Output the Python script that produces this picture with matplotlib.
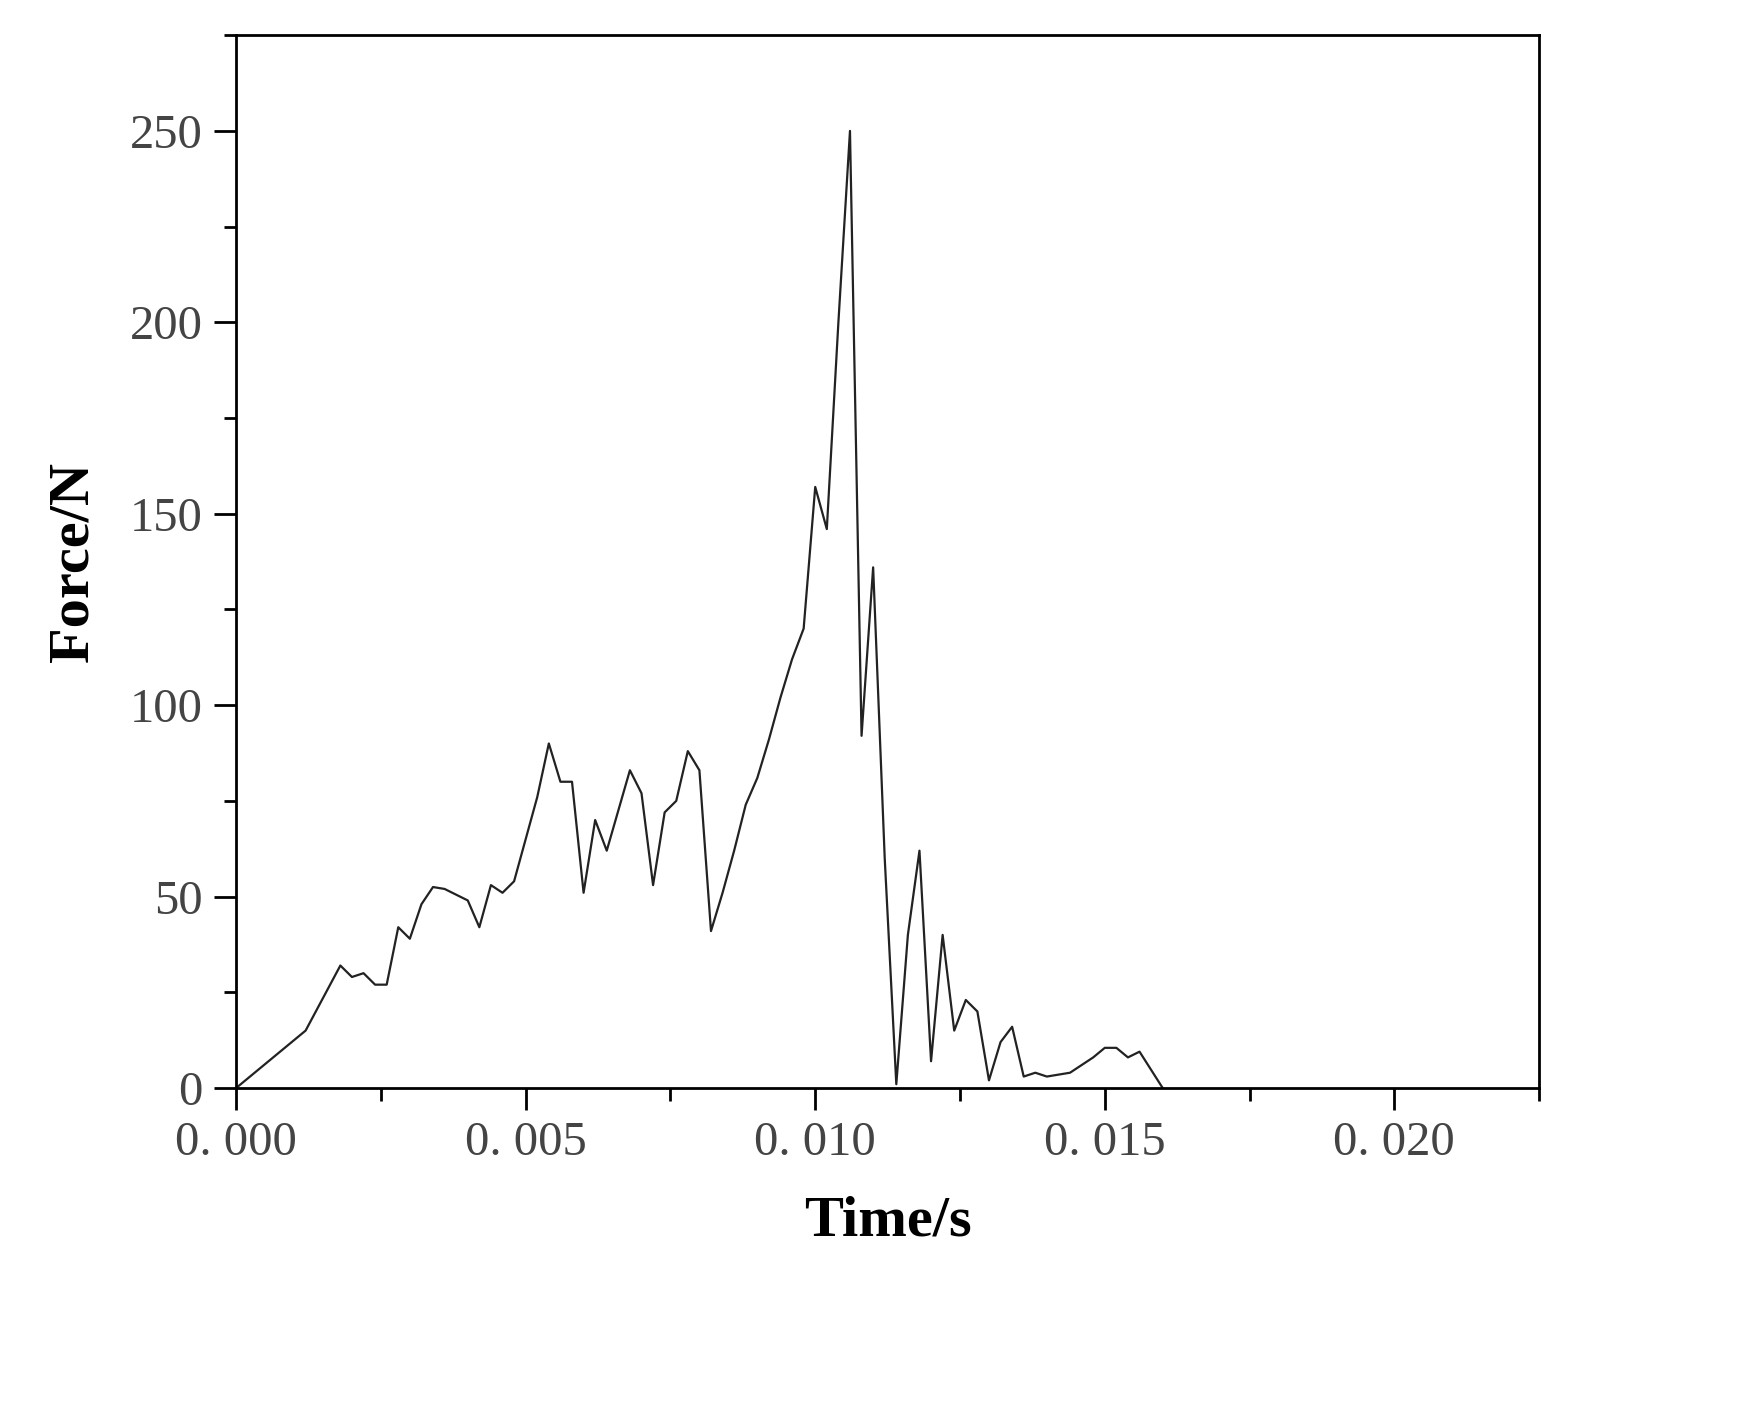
import matplotlib
matplotlib.use("Agg")
import matplotlib.pyplot as plt
from matplotlib.ticker import MultipleLocator, FuncFormatter

time_s = [0.0, 0.0012, 0.0018, 0.0020, 0.0022, 0.0024, 0.0026, 0.0028, 0.0030, 0.0032,
          0.0034, 0.0036, 0.0040, 0.0042, 0.0044, 0.0046, 0.0048, 0.0050, 0.0052, 0.0054,
          0.0056, 0.0058, 0.0060, 0.0062, 0.0064, 0.0068, 0.0070, 0.0072, 0.0074, 0.0076,
          0.0078, 0.0080, 0.0082, 0.0084, 0.0086, 0.0088, 0.0090, 0.0092, 0.0094, 0.0096,
          0.0098, 0.0100, 0.0102, 0.0104, 0.0106, 0.0108, 0.0110, 0.0112, 0.0114, 0.0116,
          0.0118, 0.0120, 0.0122, 0.0124, 0.0126, 0.0128, 0.0130, 0.0132, 0.0134, 0.0136,
          0.0138, 0.0140, 0.0142, 0.0144, 0.0146, 0.0148, 0.0150, 0.0152, 0.0154, 0.0156,
          0.0160]
force_n = [0, 15, 32, 29, 30, 27, 27, 42, 39, 48,
           52.5, 52, 49, 42, 53, 51, 54, 65, 76, 90,
           80, 80, 51, 70, 62, 83, 77, 53, 72, 75,
           88, 83, 41, 51, 62, 74, 81, 91, 102, 112,
           120, 157, 146, 200, 250, 92, 136, 60, 1, 40,
           62, 7, 40, 15, 23, 20, 2, 12, 16, 3,
           4, 3, 3.5, 4, 6, 8, 10.5, 10.5, 8, 9.5,
           0]

plt.rcParams["font.family"] = ["Liberation Serif", "DejaVu Serif"]

fig = plt.figure(figsize=(17.49, 14.07), dpi=100)
ax = fig.add_axes([0.135, 0.2267, 0.745, 0.7483])
ax.plot(time_s, force_n, color="#222222", linewidth=1.6)

ax.set_xlim(0, 0.0225)
ax.set_ylim(0, 275)
ax.xaxis.set_major_locator(MultipleLocator(0.005))
ax.xaxis.set_minor_locator(MultipleLocator(0.0025))
ax.yaxis.set_major_locator(MultipleLocator(50))
ax.yaxis.set_minor_locator(MultipleLocator(25))
ax.xaxis.set_major_formatter(FuncFormatter(lambda v, p: f"{v:.3f}".replace(".", ". ")))

for s in ax.spines.values():
    s.set_linewidth(2)
ax.tick_params(which="major", direction="out", length=16, width=2, labelsize=35,
               labelcolor="#444444", pad=8)
ax.tick_params(which="minor", direction="out", length=9, width=2)

ax.set_xlabel("Time/s", fontsize=42, fontweight="bold", labelpad=22)
ax.set_ylabel("Force/N", fontsize=42, fontweight="bold", labelpad=22)

fig.savefig("out.png", dpi=100)
